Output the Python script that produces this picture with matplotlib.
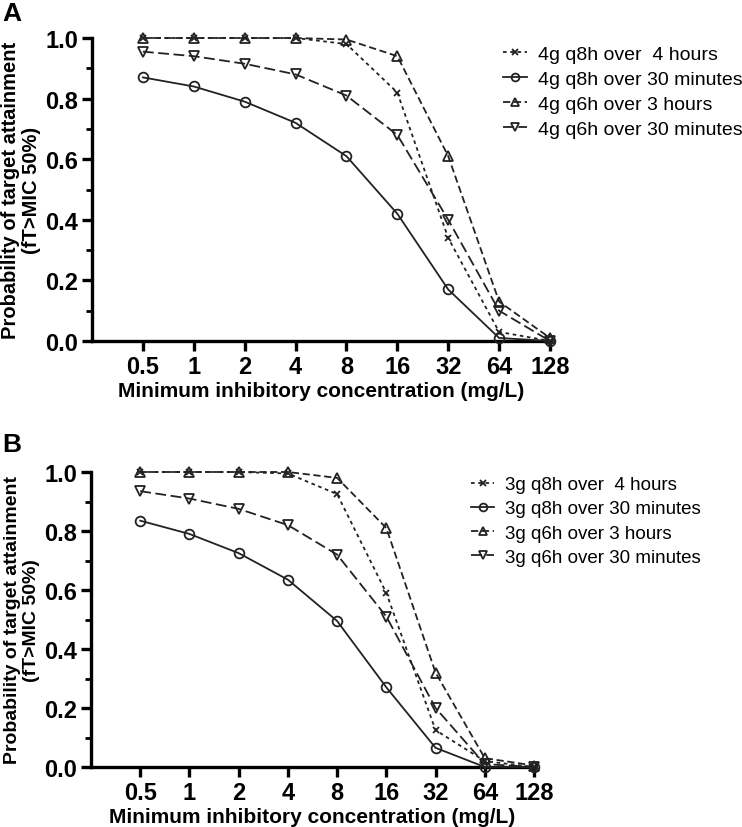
import numpy as np
import matplotlib.pyplot as plt
from matplotlib.ticker import MultipleLocator, FormatStrFormatter

mic = [0.5, 1, 2, 4, 8, 16, 32, 64, 128]
mic_labels = ["0.5", "1", "2", "4", "8", "16", "32", "64", "128"]

a_q8h_4h = [1.0, 1.0, 1.0, 1.0, 0.98, 0.82, 0.34, 0.03, 0.0]
a_q8h_30 = [0.87, 0.84, 0.79, 0.72, 0.61, 0.42, 0.17, 0.01, 0.0]
a_q6h_3h = [1.0, 1.0, 1.0, 1.0, 0.995, 0.94, 0.61, 0.13, 0.01]
a_q6h_30 = [0.955, 0.94, 0.915, 0.88, 0.81, 0.68, 0.40, 0.10, 0.0]

b_q8h_4h = [1.0, 1.0, 1.0, 0.995, 0.925, 0.59, 0.125, 0.02, 0.0]
b_q8h_30 = [0.835, 0.79, 0.725, 0.635, 0.495, 0.27, 0.065, 0.0, 0.0]
b_q6h_3h = [1.0, 1.0, 1.0, 1.0, 0.98, 0.81, 0.32, 0.03, 0.005]
b_q6h_30 = [0.935, 0.91, 0.875, 0.82, 0.72, 0.51, 0.20, 0.01, 0.0]

plt.rcParams.update({
    "font.family": ["Liberation Sans", "DejaVu Sans"],
    "axes.linewidth": 2.4,
})

fig = plt.figure(figsize=(7.42, 8.28), dpi=100)
ax_a = fig.add_axes([92 / 742, 1 - 342 / 828, 458 / 742, 303 / 828])
ax_b = fig.add_axes([91 / 742, 1 - 768 / 828, 443 / 742, 295 / 828])

x = np.log2(mic)

styles = [
    {"marker": "x", "ls": (0, (2, 2)), "ms": 5},
    {"marker": "o", "ls": "-", "ms": 7},
    {"marker": "^", "ls": (0, (4, 2)), "ms": 7},
    {"marker": "v", "ls": (0, (6, 2.5)), "ms": 7},
]

panels = [
    (ax_a, "4g", [a_q8h_4h, a_q8h_30, a_q6h_3h, a_q6h_30],
     (503 / 742, 1 - 46 / 828), 14.5, 14),
    (ax_b, "3g", [b_q8h_4h, b_q8h_30, b_q6h_3h, b_q6h_30],
     (471 / 742, 1 - 477 / 828), 14, 13.5),
]

for ax, dose, series, legpos, labsize, legsize in panels:
    names = [
        f"{dose} q8h over  4 hours",
        f"{dose} q8h over 30 minutes",
        f"{dose} q6h over 3 hours",
        f"{dose} q6h over 30 minutes",
    ]
    for vals, st, name in zip(series, styles, names):
        ax.plot(x, vals, color="#222222", linestyle=st["ls"], linewidth=1.3,
                marker=st["marker"], markersize=st["ms"], markerfacecolor="none",
                markeredgecolor="#222222", markeredgewidth=1.3,
                label=name, clip_on=False, zorder=3)
    ax.set_xlim(-2, 7)
    ax.set_ylim(0, 1.0)
    ax.set_xticks(x)
    ax.set_xticklabels(mic_labels)
    ax.yaxis.set_major_locator(MultipleLocator(0.2))
    ax.yaxis.set_minor_locator(MultipleLocator(0.1))
    ax.yaxis.set_major_formatter(FormatStrFormatter("%.1f"))
    for s in ["top", "right"]:
        ax.spines[s].set_visible(False)
    ax.tick_params(axis="both", which="major", length=7, width=2.4,
                   labelsize=17, pad=3)
    ax.tick_params(axis="y", which="minor", length=4.5, width=2.0)
    for lab in ax.get_xticklabels() + ax.get_yticklabels():
        lab.set_fontweight("bold")
    ax.set_xlabel("Minimum inhibitory concentration (mg/L)", fontsize=15,
                  fontweight="bold", labelpad=2)
    ax.set_ylabel("Probability of target attainment\n(fT>MIC 50%)",
                  fontsize=labsize, fontweight="bold", labelpad=3,
                  linespacing=1.15)
    ax.legend(loc="upper left", bbox_to_anchor=legpos,
              bbox_transform=fig.transFigure,
              frameon=False, fontsize=legsize, handlelength=1.25,
              handletextpad=0.55, labelspacing=0.38, borderaxespad=0,
              borderpad=0, markerscale=0.8)

fig.text(0.003, 0.997, "A", fontsize=19, fontweight="bold", va="top", ha="left")
fig.text(0.003, 0.477, "B", fontsize=19, fontweight="bold", va="top", ha="left")

fig.savefig("out.png", dpi=100)
